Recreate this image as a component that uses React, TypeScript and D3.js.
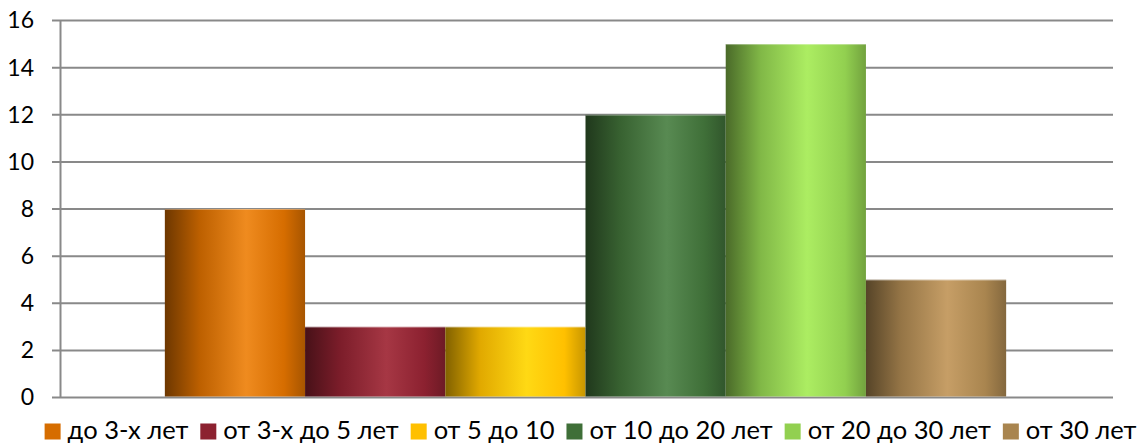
import { axisLeft, scaleBand, scaleLinear, select, color } from 'd3';
import React, { useEffect, useRef } from 'react';

const categories = ['до 3-х лет', 'от 3-х до 5 лет', 'от 5 до 10', 'от 10 до 20 лет', 'от 20 до 30 лет', 'от 30 лет'];
const values = [8, 3, 3, 12, 15, 5];
const baseColors = ['#d66d00', '#8c2130', '#ffc000', '#3f6f38', '#92d050', '#a9854f'];
const lightColors = ['#ef8b1f', '#a63744', '#ffd914', '#588a52', '#aced62', '#c69e66'];
const yTicks = [0, 2, 4, 6, 8, 10, 12, 14, 16];

const W = 1146;
const H = 443;
const margin = { top: 20.5, right: 33, bottom: 45.5, left: 60 };
const FONT = 'Lato, "Open Sans", sans-serif';

const App: React.FC = () => {
  const svgRef = useRef<SVGSVGElement>(null);

  useEffect(() => {
    const svg = select(svgRef.current);
    svg.selectAll('*').remove();

    const innerW = W - margin.left - margin.right;
    const innerH = H - margin.top - margin.bottom;

    // Scales
    const x0 = scaleBand<string>()
      .domain(['all'])
      .range([margin.left - 2, margin.left + innerW])
      .paddingInner(0)
      .paddingOuter(0.127);
    const x1 = scaleBand<string>()
      .domain(categories)
      .range([x0('all') as number, (x0('all') as number) + x0.bandwidth()])
      .padding(0);
    const y = scaleLinear().domain([0, 16]).range([margin.top + innerH, margin.top]);

    // Gradients
    const defs = svg.append('defs');
    categories.forEach((c, i) => {
      const base = baseColors[i];
      const g = defs
        .append('linearGradient')
        .attr('id', `grad${i}`)
        .attr('x1', '0%')
        .attr('x2', '100%')
        .attr('y1', '0%')
        .attr('y2', '0%');
      const dark = color(base)!.darker(1.9).formatHex();
      const mid = color(base)!.darker(0.35).formatHex();
      const edge = color(base)!.darker(0.7).formatHex();
      g.append('stop').attr('offset', '0%').attr('stop-color', dark);
      g.append('stop').attr('offset', '25%').attr('stop-color', mid);
      g.append('stop').attr('offset', '58%').attr('stop-color', lightColors[i]);
      g.append('stop').attr('offset', '85%').attr('stop-color', base);
      g.append('stop').attr('offset', '100%').attr('stop-color', edge);
    });

    // Gridlines
    svg
      .append('g')
      .selectAll('line')
      .data(yTicks)
      .join('line')
      .attr('x1', margin.left - 8)
      .attr('x2', margin.left + innerW)
      .attr('y1', (d) => y(d))
      .attr('y2', (d) => y(d))
      .attr('stroke', '#898989')
      .attr('stroke-width', 2);

    // Y axis
    const yAxis = axisLeft(y).tickValues(yTicks).tickSize(0).tickPadding(26);
    const gy = svg
      .append('g')
      .attr('transform', `translate(${margin.left},0)`)
      .call(yAxis);
    gy.select('.domain').attr('stroke', '#898989').attr('stroke-width', 2);
    gy.selectAll('text')
      .attr('font-family', FONT)
      .attr('font-size', 23)
      .attr('fill', '#000');

    // Bars
    svg
      .append('g')
      .selectAll('rect')
      .data(categories)
      .join('rect')
      .attr('x', (d) => x1(d) as number)
      .attr('width', x1.bandwidth())
      .attr('y', (d, i) => y(values[i]))
      .attr('height', (d, i) => y(0) - y(values[i]) - 1)
      .attr('fill', (d, i) => `url(#grad${i})`);

    // Bar top highlights
    svg
      .append('g')
      .selectAll('line')
      .data(categories)
      .join('line')
      .attr('x1', (d) => x1(d) as number)
      .attr('x2', (d) => (x1(d) as number) + x1.bandwidth())
      .attr('y1', (d, i) => y(values[i]) + 0.5)
      .attr('y2', (d, i) => y(values[i]) + 0.5)
      .attr('stroke', '#ffffff')
      .attr('stroke-opacity', 0.35)
      .attr('stroke-width', 1);

    // Legend
    const legend = svg.append('g');
    const items = legend
      .selectAll('g')
      .data(categories)
      .join('g');
    items
      .append('rect')
      .attr('width', 16)
      .attr('height', 16)
      .attr('y', -15)
      .attr('fill', (d, i) => baseColors[i]);
    items
      .append('text')
      .attr('x', 23)
      .attr('font-family', FONT)
      .attr('font-size', 25.5)
      .attr('fill', '#000')
      .text((d) => d);
    let cx = 0;
    items.each(function () {
      const gEl = this as SVGGElement;
      const w = (gEl.querySelector('text') as SVGTextElement).getComputedTextLength() + 23;
      select(gEl).attr('transform', `translate(${cx},0)`);
      cx += w + 12;
    });
    const total = cx - 12;
    legend.attr('transform', `translate(${41 + (1099 - total) / 2},438.5)`);
  }, []);

  return (
    <div style={{ position: 'absolute', left: 0, top: 0 }}>
      <svg ref={svgRef} width={W} height={H} style={{ display: 'block', background: '#fff' }} />
    </div>
  );
};

export default App;
